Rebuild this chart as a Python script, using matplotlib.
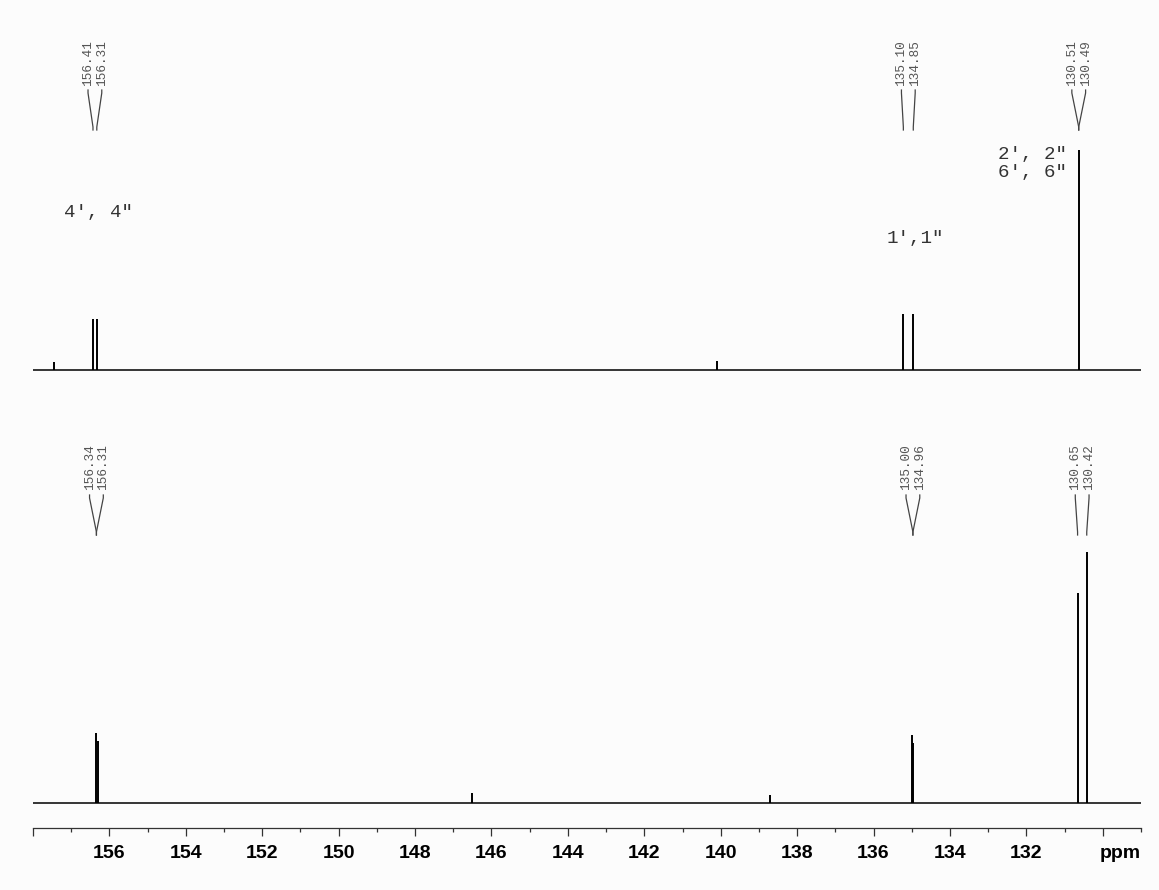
import matplotlib.pyplot as plt
from matplotlib.ticker import FixedLocator, FixedFormatter, MultipleLocator

# peak lists (ppm, relative height)
top_ppm = [156.43, 156.33, 135.22, 134.96, 130.63, 140.10, 157.45]
top_int = [51, 51, 56, 56, 220, 9, 8]
bot_ppm = [156.34, 156.31, 134.99, 134.96, 130.66, 130.42, 146.50, 138.70]
bot_int = [70, 62, 68, 60, 210, 251, 10, 8]

# picked-peak labels and the peak each one points at
top_labels = ["156.41", "156.31", "135.10", "134.85", "130.51", "130.49"]
top_targets = [156.43, 156.33, 135.22, 134.96, 130.63, 130.63]
bot_labels = ["156.34", "156.31", "135.00", "134.96", "130.65", "130.42"]
bot_targets = [156.34, 156.34, 134.97, 134.97, 130.66, 130.42]

# carbon assignments
assign = ["4\u2032, 4\"", "1\u2032,1\"", "2\u2032, 2\"", "6\u2032, 6\""]
assign_ppm = [156.29, 134.90, 132.75, 132.75]
assign_ha = ["center", "center", "left", "left"]

ticks = list(range(158, 128, -2))
tick_labels = ["" if t in (158, 130) else str(t) for t in ticks]

top_base = 458
bot_base = 25

BG = "#fcfcfc"
MONO = ["Liberation Mono", "DejaVu Sans Mono"]


def draw_trace(ax, base, ppm, inten):
    ax.plot([158, 129], [base, base], color="black", lw=1.1)
    ax.vlines(ppm, base, [base + h for h in inten], color="black", lw=1.4)


def draw_labels(ax, labels, targets, y_text, y_top, y_bot):
    for i in range(0, len(labels), 2):
        c = (targets[i] + targets[i + 1]) / 2
        for j, lx in ((i, c + 0.18), (i + 1, c - 0.18)):
            px = targets[j]
            ax.plot([lx, lx, px, px], [y_top, y_top - 3, y_bot + 3, y_bot],
                    color="#444444", lw=0.9)
            ax.text(lx, y_text, labels[j], rotation=90, ha="center", va="bottom",
                    fontsize=9.2, color="#555555", family=MONO)


fig = plt.figure(figsize=(11.59, 8.9), dpi=100, facecolor=BG)
ax = fig.add_axes([33 / 1159, 62 / 890, (1141 - 33) / 1159, 828 / 890])
ax.set_facecolor(BG)
ax.set_xlim(158, 129)
ax.set_ylim(0, 828)

draw_trace(ax, top_base, top_ppm, top_int)
draw_trace(ax, bot_base, bot_ppm, bot_int)

draw_labels(ax, top_labels, top_targets, 742, 738, 698)
draw_labels(ax, bot_labels, bot_targets, 338, 333, 293)

# y of each assignment in pixel rows from the top
assign_row = [212, 238, 155, 172]
for txt, x, ha, row in zip(assign, assign_ppm, assign_ha, assign_row):
    ax.text(x, 828 - row, txt, ha=ha, va="center", fontsize=13.8,
            color="#333333", family=MONO)

for s in ("left", "right", "top"):
    ax.spines[s].set_visible(False)
ax.spines["bottom"].set_linewidth(0.9)
ax.spines["bottom"].set_color("#333333")
ax.set_yticks([])
ax.xaxis.set_major_locator(FixedLocator(ticks))
ax.xaxis.set_major_formatter(FixedFormatter(tick_labels))
ax.xaxis.set_minor_locator(MultipleLocator(1))
ax.tick_params(axis="x", which="major", direction="out", length=6, width=0.9,
               color="#333333", pad=6, labelsize=14)
ax.tick_params(axis="x", which="minor", direction="out", length=3, width=0.9,
               color="#333333")
for lab in ax.get_xticklabels():
    lab.set_fontweight("bold")
    lab.set_family("Liberation Sans")
ax.text(1.0, -0.0205, "ppm", transform=ax.transAxes, ha="right", va="top",
        fontsize=14, fontweight="bold", family="Liberation Sans")

fig.savefig("out.png", dpi=100, facecolor=BG)
